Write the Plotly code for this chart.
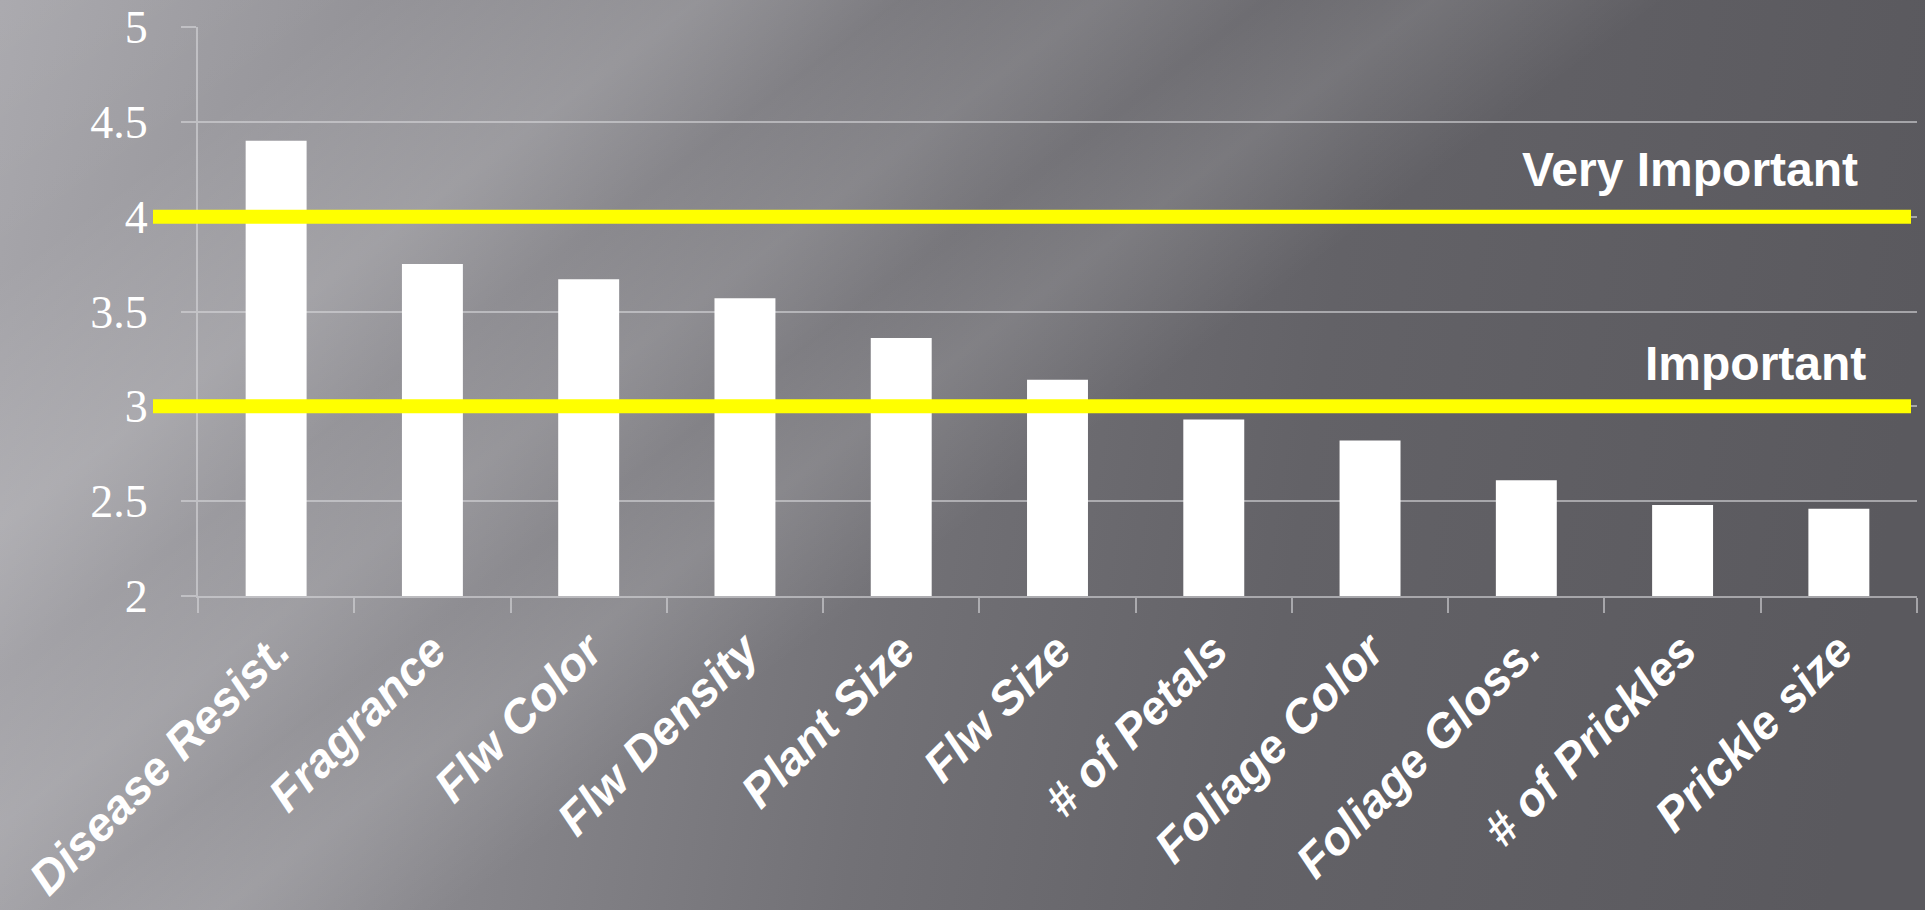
import base64
import plotly.graph_objects as go

# ---- data ----
categories = ["Disease Resist.", "Fragrance", "Flw Color", "Flw Density", "Plant Size",
              "Flw Size", "# of Petals", "Foliage Color", "Foliage Gloss.",
              "# of Prickles", "Prickle size"]
scores = [4.40, 3.75, 3.67, 3.57, 3.36, 3.14, 2.93, 2.82, 2.61, 2.48, 2.46]
threshold_values = [4, 3]
threshold_labels = ["Very Important", "Important"]
y_tick_values = [2, 2.5, 3, 3.5, 4, 4.5, 5]
y_tick_labels = ["2", "2.5", "3", "3.5", "4", "4.5", "5"]

W, H = 1925, 910
ML, MR, MT, MB = 198, 8, 27, 314
PW, PH = W - ML - MR, H - MT - MB

# ---- background (gradient with diagonal light streaks) ----
L = 0.6 * W + 0.8 * H
streaks = [(0, 0.06), (220, 0.01), (420, 0.15), (540, 0.04), (660, 0.12),
           (760, 0.04), (860, 0.12), (1000, 0.0), (L, 0.0)]
streak_stops = "".join(
    f'<stop offset="{c / L:.4f}" stop-color="#ffffff" stop-opacity="{a}"/>' for c, a in streaks)
svg = f'''<svg xmlns="http://www.w3.org/2000/svg" width="{W}" height="{H}" viewBox="0 0 {W} {H}">
<defs>
<linearGradient id="base" gradientUnits="userSpaceOnUse" x1="0" y1="0" x2="{W}" y2="300">
<stop offset="0" stop-color="#a6a5aa"/>
<stop offset="0.25" stop-color="#8d8c91"/>
<stop offset="0.5" stop-color="#727176"/>
<stop offset="0.7" stop-color="#636267"/>
<stop offset="1" stop-color="#5a595e"/>
</linearGradient>
<linearGradient id="streak" gradientUnits="userSpaceOnUse" x1="0" y1="0" x2="{0.6 * L:.1f}" y2="{0.8 * L:.1f}">
{streak_stops}
</linearGradient>
</defs>
<rect x="0" y="0" width="{W}" height="{H}" fill="url(#base)"/>
<rect x="0" y="0" width="{W}" height="{H}" fill="url(#streak)"/>
</svg>'''
bg_uri = "data:image/svg+xml;base64," + base64.b64encode(svg.encode()).decode()

fig = go.Figure()
fig.add_trace(go.Bar(
    x=categories, y=scores, width=0.39,
    marker=dict(color="#ffffff", line=dict(width=0)),
    hoverinfo="skip", showlegend=False,
))

grid_col = "rgba(215,215,218,0.6)"

# threshold lines + labels
label_x = [0.9668, 0.9715]
label_y = [4.25, 3.228]
for val, lab, lx, ly in zip(threshold_values, threshold_labels, label_x, label_y):
    fig.add_shape(type="line", xref="paper", yref="y",
                  x0=(153 - ML) / PW, x1=(1911 - ML) / PW, y0=val, y1=val,
                  line=dict(color="#ffff00", width=14), layer="above")
    fig.add_annotation(xref="paper", yref="y", x=lx, y=ly, text=lab,
                       showarrow=False, xanchor="right", yanchor="middle",
                       font=dict(family="Liberation Sans, Arial, sans-serif",
                                 size=48, color="#ffffff", weight="bold"))

fig.update_layout(
    width=W, height=H,
    margin=dict(l=ML, r=MR, t=MT, b=MB, pad=0),
    paper_bgcolor="#7a797e",
    plot_bgcolor="rgba(0,0,0,0)",
    bargap=0.61,
    images=[dict(source=bg_uri, xref="paper", yref="paper",
                 x=-ML / PW, y=1 + MT / PH, sizex=W / PW, sizey=H / PH,
                 xanchor="left", yanchor="top", sizing="stretch", layer="below")],
    xaxis=dict(
        type="category", showgrid=False, showline=True, linecolor=grid_col, linewidth=2,
        ticks="outside", tickson="boundaries", ticklen=15, tickcolor=grid_col, tickwidth=2,
        tickangle=-45, automargin=False, ticklabelstandoff=6,
        tickfont=dict(family="Liberation Sans, Arial, sans-serif", size=47,
                      color="#ffffff", weight="bold", style="italic"),
    ),
    yaxis=dict(
        range=[2, 5], tickvals=y_tick_values, ticktext=y_tick_labels,
        showgrid=True, gridcolor=grid_col, gridwidth=2,
        showline=True, linecolor=grid_col, linewidth=2, zeroline=False,
        ticks="outside", ticklen=15, tickcolor=grid_col, tickwidth=2,
        automargin=False, ticklabelstandoff=24,
        tickfont=dict(family="Liberation Serif, Times New Roman, serif", size=46,
                      color="#ffffff"),
    ),
)

fig.write_html("out.html", include_plotlyjs=True, config={"displayModeBar": False})
